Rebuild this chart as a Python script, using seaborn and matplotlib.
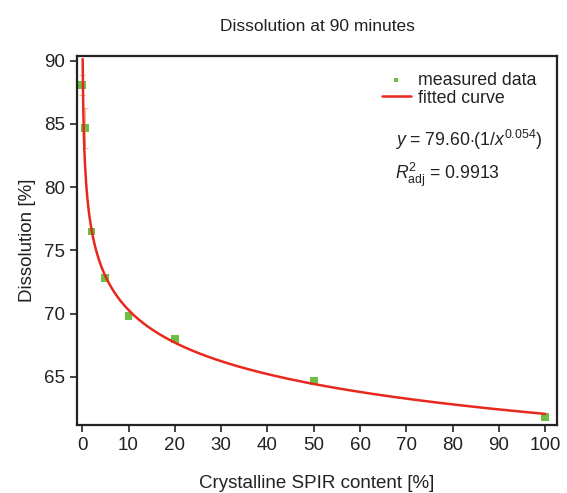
import numpy as np
import pandas as pd
import matplotlib
matplotlib.use("Agg")
import matplotlib.pyplot as plt
import seaborn as sns

# measured points
content = [0.0, 0.6, 2, 5, 10, 20, 50, 100]
dissolution = [88.1, 84.7, 76.5, 72.8, 69.8, 68.0, 64.7, 61.8]
err = [0.8, 1.6, 0, 0, 0, 0, 0, 0]

# fit parameters printed on the chart
fit_a = 79.60
fit_b = 0.054
xticks = [0, 10, 20, 30, 40, 50, 60, 70, 80, 90, 100]
yticks = [65, 70, 75, 80, 85, 90]

sns.set_theme(style="ticks")
plt.rcParams['font.family'] = ['Liberation Sans', 'DejaVu Sans']
plt.rcParams['mathtext.fontset'] = 'custom'
plt.rcParams['mathtext.rm'] = 'Liberation Sans'
plt.rcParams['mathtext.it'] = 'Liberation Sans:italic'

df = pd.DataFrame({'content': content, 'dissolution': dissolution})
xfit = np.linspace(0.1, 100, 800)
fit = pd.DataFrame({'content': xfit, 'dissolution': fit_a / xfit ** fit_b})

fig = plt.figure(figsize=(5.67, 4.93), dpi=100)
ax = fig.add_axes([0.136, 0.138, 0.846, 0.749])

ax.errorbar(content, dissolution, yerr=err, fmt='none', ecolor='#f0b890',
            elinewidth=0.8, capsize=2, capthick=0.8, zorder=1)
sns.scatterplot(data=df, x='content', y='dissolution', ax=ax, marker='s', s=32,
                color='#6cbf45', edgecolor='none', label='measured data', zorder=2)
sns.lineplot(data=fit, x='content', y='dissolution', ax=ax, color='#e8281c',
             linewidth=1.8, label='fitted curve', zorder=3)

ax.set_xlim(-1.1, 102.5)
ax.set_ylim(61.2, 90.4)
ax.set_xticks(xticks)
ax.set_yticks(yticks)
ax.tick_params(direction='out', length=5, width=1.2, labelsize=13.5, colors='#222222')
for s in ax.spines.values():
    s.set_linewidth(1.6)
    s.set_color('#222222')

ax.set_title('Dissolution at 90 minutes', fontsize=12.5, color='#222222', pad=18)
ax.set_xlabel('Crystalline SPIR content [%]', fontsize=13.5, color='#222222', labelpad=15)
ax.set_ylabel('Dissolution [%]', fontsize=13.5, color='#222222', labelpad=6)

leg = ax.legend(loc='upper right', bbox_to_anchor=(0.99, 1.0), frameon=False,
                fontsize=12.8, handlelength=1.6, handletextpad=0.4, labelspacing=0.05,
                markerscale=0.5)
for t in leg.get_texts():
    t.set_color('#222222')

ax.text(0.662, 0.771, r'$y$ = 79.60$\cdot$(1/$x^{0.054}$)', transform=ax.transAxes,
        fontsize=12.7, va='center', color='#222222')
ax.text(0.662, 0.677, r'$R^2_{\mathrm{adj}}$ = 0.9913', transform=ax.transAxes,
        fontsize=12.7, va='center', color='#222222')

fig.savefig('out.png', dpi=100)
